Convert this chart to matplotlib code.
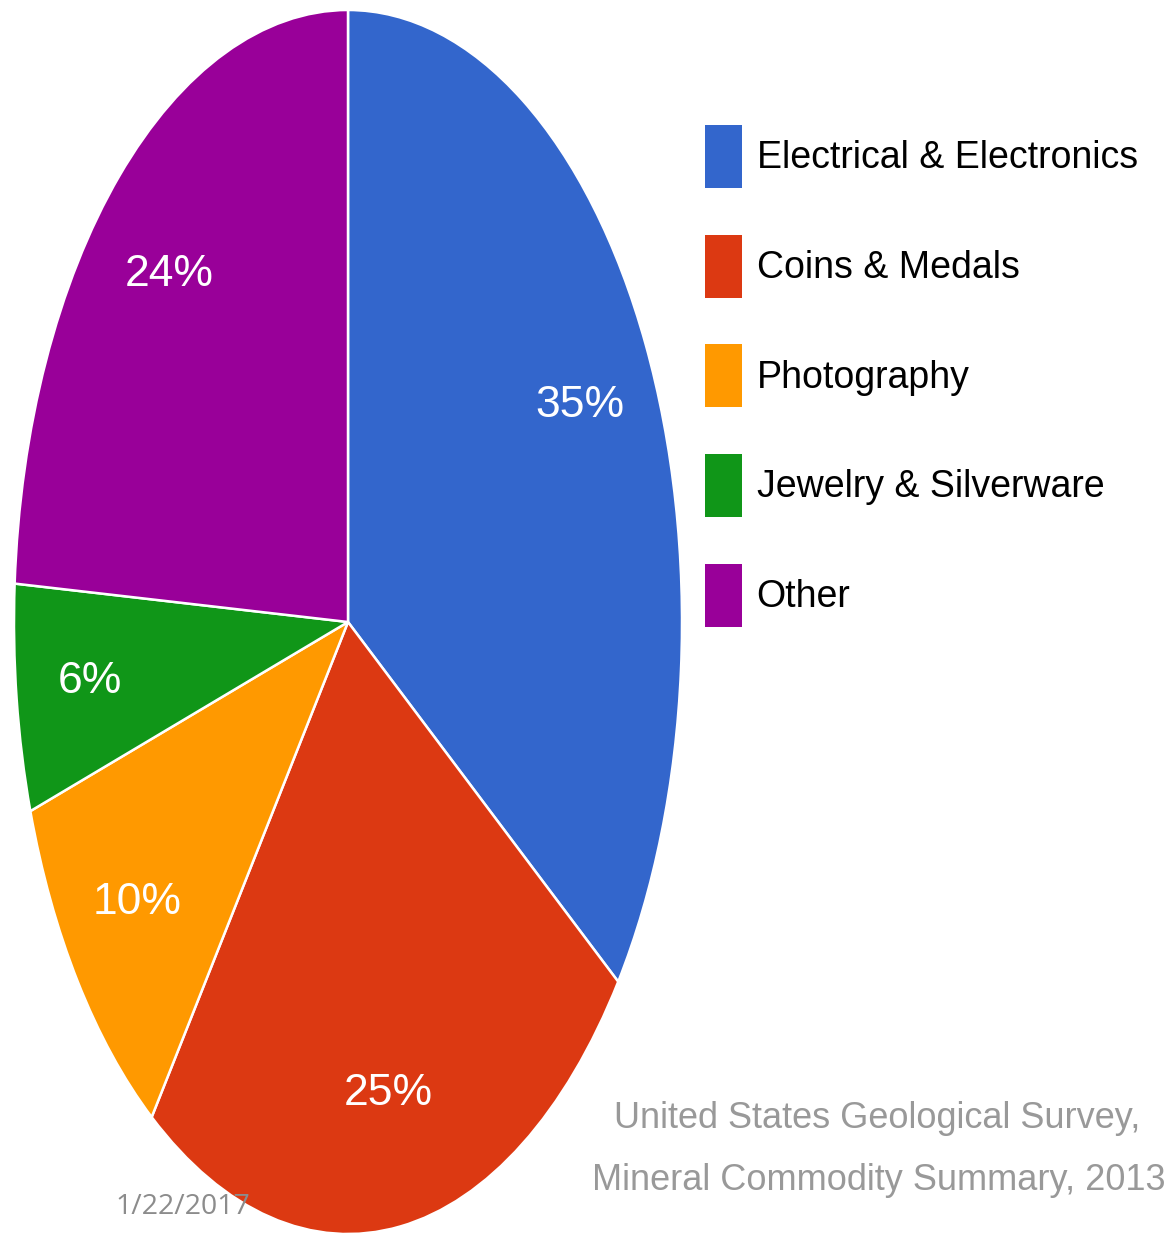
import matplotlib.pyplot as plt
from matplotlib.patches import Patch

W, H = 1167, 1236
DPI = 100

categories = ["Electrical & Electronics", "Coins & Medals", "Photography",
              "Jewelry & Silverware", "Other"]
shares = [35, 25, 10, 6, 24]
colors = ["#3366CC", "#DC3912", "#FF9900", "#109618", "#990099"]

source_lines = ["United States Geological Survey,", "Mineral Commodity Summary, 2013"]
date_text = "1/22/2017"

NARROW = ["Liberation Sans Narrow", "Liberation Sans", "DejaVu Sans"]

fig = plt.figure(figsize=(W / DPI, H / DPI), dpi=DPI)
ax = fig.add_axes([0, 0, 1, 1])

# stretched pie: centre at pixel (348, 622), radii 334 x 612 px
cx, cy, rx, ry = 348, 622, 334, 612
wedges, texts, autotexts = ax.pie(
    shares, colors=colors, startangle=90, counterclock=False,
    autopct="%d%%", pctdistance=0.78,
    wedgeprops=dict(edgecolor="white", linewidth=1.8),
    textprops=dict(color="white", fontsize=32, family=NARROW))

ax.set_aspect("auto")
ax.set_xlim(-cx / rx, (W - cx) / rx)
ax.set_ylim(-(H - cy) / ry, cy / ry)
ax.axis("off")

handles = [Patch(facecolor=c, edgecolor="none") for c in colors]
fig.legend(handles, categories, loc="upper left",
           bbox_to_anchor=(705 / W, 1 - 125 / H),
           frameon=False, borderpad=0, borderaxespad=0,
           prop=dict(family=NARROW, size=27),
           handlelength=0.98, handleheight=2.2,
           handletextpad=0.4, labelspacing=1.25)

fig.text(1140 / W, 1 - 1118 / H, source_lines[0], ha="right", va="center",
         color="#999999", fontsize=26, family=NARROW)
fig.text(1165 / W, 1 - 1180 / H, source_lines[1], ha="right", va="center",
         color="#999999", fontsize=26, family=NARROW)

fig.text(115 / W, 1 - 1207 / H, date_text, ha="left", va="center",
         color="#8c8c8c", fontsize=20.5, family=["Open Sans", "DejaVu Sans"])

fig.savefig("out.png", dpi=DPI, facecolor="white")
